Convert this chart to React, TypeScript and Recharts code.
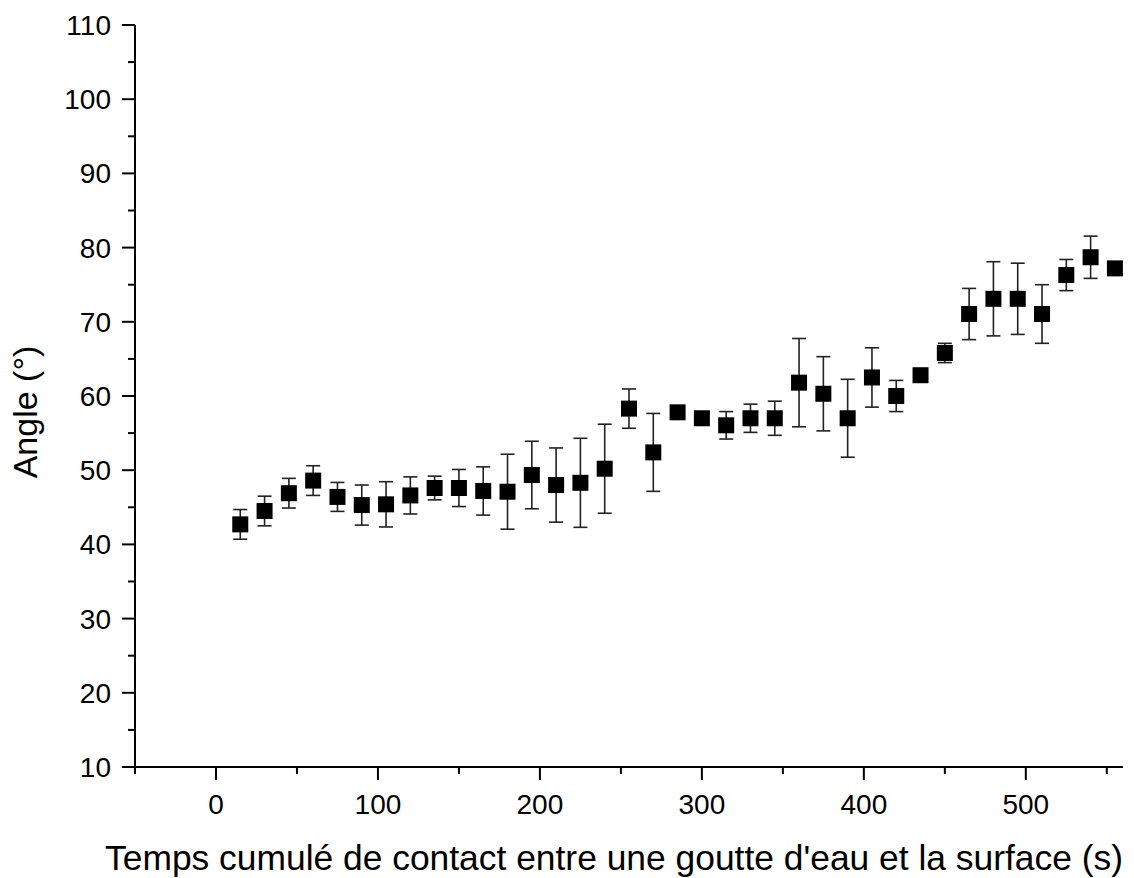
import React from "react";
import {
  ScatterChart,
  Scatter,
  XAxis,
  YAxis,
  ErrorBar,
} from "recharts";

const times = [
  15, 30, 45, 60, 75, 90, 105, 120, 135, 150, 165, 180, 195, 210, 225, 240,
  255, 270, 285, 300, 315, 330, 345, 360, 375, 390, 405, 420, 435, 450, 465,
  480, 495, 510, 525, 540, 555,
];
const angles = [
  42.7, 44.5, 46.9, 48.6, 46.4, 45.3, 45.4, 46.6, 47.6, 47.6, 47.2, 47.1,
  49.35, 48.0, 48.3, 50.2, 58.3, 52.4, 57.8, 57.0, 56.05, 57.0, 57.0, 61.8,
  60.3, 57.0, 62.5, 60.0, 62.8, 65.8, 71.05, 73.1, 73.1, 71.05, 76.3, 78.7,
  77.2,
];
const errors = [
  2.0, 2.0, 2.0, 2.0, 1.95, 2.7, 3.05, 2.5, 1.6, 2.5, 3.25, 5.05, 4.55, 5.0,
  6.0, 6.0, 2.65, 5.25, 0.6, 0.6, 1.85, 1.9, 2.3, 5.95, 5.0, 5.25, 4.0, 2.1,
  0.6, 1.3, 3.45, 5.0, 4.8, 3.95, 2.1, 2.85, 0.6,
];

const xTicks = [-50, 0, 50, 100, 150, 200, 250, 300, 350, 400, 450, 500, 550];
const yTicks = [
  10, 15, 20, 25, 30, 35, 40, 45, 50, 55, 60, 65, 70, 75, 80, 85, 90, 95, 100,
  105, 110,
];

const FONT = "'Liberation Sans', Arial, sans-serif";

const data = times.map((t, i) => ({ t, angle: angles[i], err: errors[i] }));

// ticks drawn by hand so minor ones get no label and a shorter line
const XTick = (props: any) => {
  const { x, y, payload } = props;
  const major = payload.value % 100 === 0;
  return (
    <g>
      <line x1={x} x2={x} y1={y} y2={y + (major ? 13 : 7)} stroke="#000" strokeWidth={2} />
      {major && (
        <text x={x} y={y + 47} textAnchor="middle" fontSize={28} fontFamily={FONT} fill="#000">
          {payload.value}
        </text>
      )}
    </g>
  );
};

const YTick = (props: any) => {
  const { x, y, payload } = props;
  const major = payload.value % 10 === 0;
  return (
    <g>
      <line x1={x - (major ? 13 : 7)} x2={x} y1={y} y2={y} stroke="#000" strokeWidth={2} />
      {major && (
        <text x={x - 24} y={y + 10} textAnchor="end" fontSize={28} fontFamily={FONT} fill="#000">
          {payload.value}
        </text>
      )}
    </g>
  );
};

const SquareDot = (props: any) => {
  const { cx, cy } = props;
  return <rect x={cx - 8} y={cy - 8} width={16} height={16} fill="#000" />;
};

export default function App() {
  return (
    <div style={{ position: "absolute", left: 0, top: 0, background: "#fff" }}>
      <ScatterChart
        width={1134}
        height={878}
        margin={{ top: 25, right: 11, bottom: 0, left: 0 }}
      >
        <XAxis
          type="number"
          dataKey="t"
          domain={[-50, 560]}
          ticks={xTicks}
          interval={0}
          height={111}
          tickSize={0}
          tickMargin={0}
          tickLine={false}
          tick={<XTick />}
          axisLine={{ stroke: "#000", strokeWidth: 2 }}
          allowDataOverflow
        />
        <YAxis
          type="number"
          dataKey="angle"
          domain={[10, 110]}
          ticks={yTicks}
          interval={0}
          width={135}
          tickSize={0}
          tickMargin={0}
          tickLine={false}
          tick={<YTick />}
          axisLine={{ stroke: "#000", strokeWidth: 2 }}
          allowDataOverflow
        />
        <Scatter data={data} shape={<SquareDot />} isAnimationActive={false}>
          <ErrorBar
            dataKey="err"
            direction="y"
            width={7}
            stroke="#222"
            strokeWidth={1.6}
            isAnimationActive={false}
          />
        </Scatter>
        <text x={614} y={870} textAnchor="middle" fontSize={35.4} fontFamily={FONT} fill="#000">
          Temps cumulé de contact entre une goutte d'eau et la surface (s)
        </text>
        <text
          x={37}
          y={412}
          textAnchor="middle"
          fontSize={34}
          fontFamily={FONT}
          fill="#000"
          transform="rotate(-90 37 412)"
        >
          Angle (°)
        </text>
      </ScatterChart>
    </div>
  );
}
